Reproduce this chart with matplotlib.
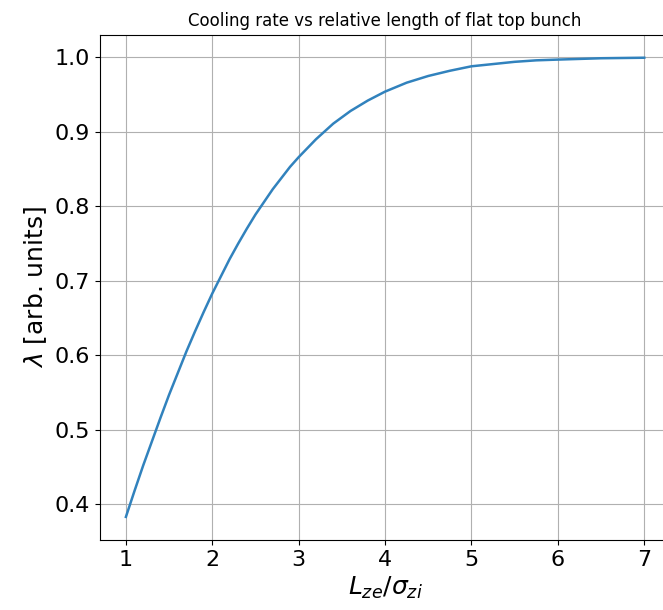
import matplotlib
matplotlib.use('Agg')
import matplotlib.pyplot as plt

# values
length_ratio = [1.0, 1.1, 1.2, 1.3, 1.4, 1.5, 1.6, 1.7, 1.8, 1.9, 2.0,
                2.1, 2.2, 2.3, 2.4, 2.5, 2.6, 2.7, 2.8, 2.9, 3.0,
                3.2, 3.4, 3.6, 3.8, 4.0, 4.25, 4.5, 4.75, 5.0,
                5.25, 5.5, 5.75, 6.0, 6.5, 7.0]
cooling_rate = [0.383, 0.418, 0.452, 0.484, 0.516, 0.547, 0.576, 0.605, 0.632, 0.658, 0.683,
                0.706, 0.729, 0.750, 0.770, 0.789, 0.806, 0.823, 0.838, 0.853, 0.866,
                0.890, 0.911, 0.928, 0.942, 0.954, 0.966, 0.975, 0.982, 0.988,
                0.991, 0.994, 0.996, 0.997, 0.9988, 0.9995]

fig = plt.figure(figsize=(6.63, 6.1), dpi=100)
# right spine falls just outside the image in the reference
ax = fig.add_axes([0.1508, 0.115, 0.86, 0.828])
ax.spines['right'].set_visible(False)
ax.plot(length_ratio, cooling_rate, color='#3182bd', lw=1.8)
ax.grid(True)
ax.set_xticks([1, 2, 3, 4, 5, 6, 7])
ax.set_yticks([0.4, 0.5, 0.6, 0.7, 0.8, 0.9, 1.0])
ax.tick_params(labelsize=16)
ax.set_xlabel(r'$L_{ze}/\sigma_{zi}$', fontsize=18)
ax.set_ylabel(r'$\lambda$ [arb. units]', fontsize=18)
ax.set_title('Cooling rate vs relative length of flat top bunch', fontsize=12)
fig.savefig('out.png')
